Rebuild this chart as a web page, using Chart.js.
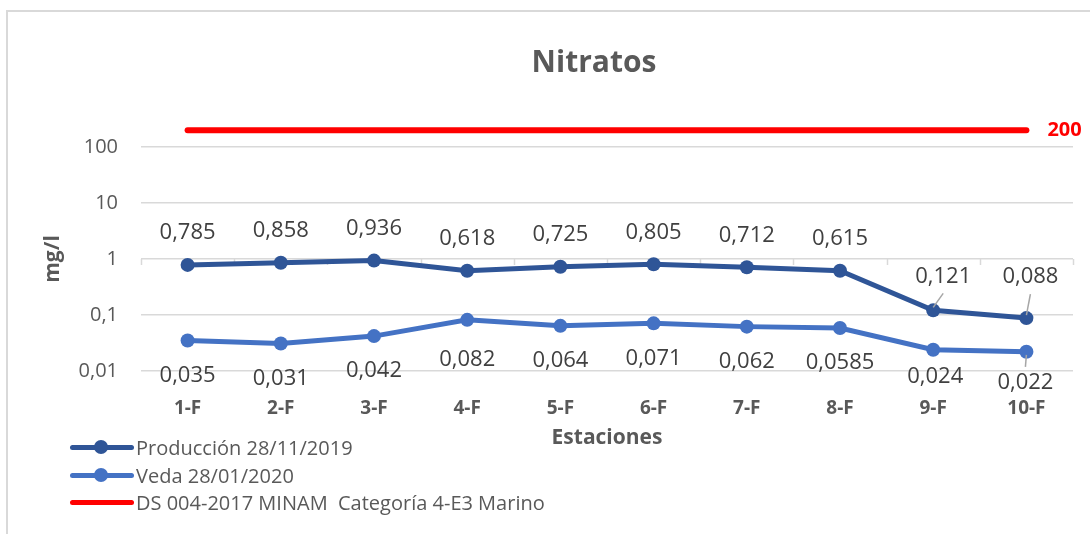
<!DOCTYPE html>
<html>
<head>
<meta charset="utf-8">
<script src="https://cdn.jsdelivr.net/npm/chart.js@4.4.1/dist/chart.umd.min.js"></script>
<style>
html, body { margin: 0; padding: 0; background: #fff; }
#wrap { position: relative; width: 1090px; height: 534px; overflow: hidden; }
#frame { position: absolute; left: 6px; top: 10px; width: 1200px; height: 700px; border: 2px solid #d9d9d9; box-sizing: border-box; }
#legend { position: absolute; left: 68px; top: 434px; font-family: 'Open Sans'; font-size: 20px; color: #595959; }
.row { height: 27.5px; line-height: 27.5px; white-space: nowrap; }
.sample { display: inline-block; position: relative; width: 66px; height: 27px; vertical-align: top; margin-right: 2px; }
.sample .ln { position: absolute; left: 2px; right: 0; top: 11px; height: 5px; border-radius: 3px; }
.sample .dot { position: absolute; left: 26px; top: 6px; width: 14px; height: 14px; border-radius: 50%; }
</style>
</head>
<body>
<div id="wrap">
  <div id="frame"></div>
  <canvas id="chart" width="1090" height="534"></canvas>
  <div id="legend"></div>
</div>
<script>
var estaciones = ['1-F', '2-F', '3-F', '4-F', '5-F', '6-F', '7-F', '8-F', '9-F', '10-F'];
var produccion = [0.785, 0.858, 0.936, 0.618, 0.725, 0.805, 0.712, 0.615, 0.121, 0.088];
var veda = [0.035, 0.031, 0.042, 0.082, 0.064, 0.071, 0.062, 0.0585, 0.024, 0.022];
var norma = [200, 200, 200, 200, 200, 200, 200, 200, 200, 200];
var yTicks = [0.01, 0.1, 1, 10, 100];

var FONT = "'Open Sans', sans-serif";
var GRAY = '#595959';

var fmt = function (v) {
    return String(v).replace('.', ',');
}

// label placement per dataset (offsets from the point, in px)
var labelCfg = [
    { dy: -32, special: { 8: { dx: 10, dy: -34, leader: true }, 9: { dx: 4, dy: -41, leader: true } } },
    { dy: 35, special: { 3: { dy: 40 }, 8: { dx: 2, dy: 27 }, 9: { dx: -1, dy: 31, leader: true } } }
];

var extras = {
    id: 'extras',
    beforeDatasetsDraw: function (chart) {
        var ctx = chart.ctx;
        var x = chart.scales.x, y = chart.scales.y;
        // small tick marks where the horizontal axis crosses (at 1)
        var y1 = y.getPixelForValue(1);
        var step = (x.right - x.left) / estaciones.length;
        ctx.save();
        ctx.strokeStyle = '#d9d9d9';
        ctx.lineWidth = 1.5;
        for (var i = 0; i <= estaciones.length; i++) {
            var px = Math.round(x.left + i * step) + 0.5;
            ctx.beginPath();
            ctx.moveTo(px, y1);
            ctx.lineTo(px, y1 + 6);
            ctx.stroke();
        }
        ctx.restore();
    },
    afterDatasetsDraw: function (chart) {
        var ctx = chart.ctx;
        ctx.save();
        ctx.textAlign = 'center';
        ctx.textBaseline = 'middle';
        ctx.font = '22px ' + FONT;
        for (var d = 0; d < 2; d++) {
            var meta = chart.getDatasetMeta(d);
            var vals = chart.data.datasets[d].data;
            var cfg = labelCfg[d];
            meta.data.forEach(function (pt, i) {
                var s = cfg.special[i] || {};
                var lx = pt.x + (s.dx || 0);
                var ly = pt.y + (s.dy !== undefined ? s.dy : cfg.dy);
                if (s.leader) {
                    ctx.strokeStyle = '#a6a6a6';
                    ctx.lineWidth = 1.5;
                    ctx.beginPath();
                    if (ly < pt.y) {
                        ctx.moveTo(lx, ly + 17);
                        ctx.lineTo(pt.x, pt.y - 3);
                    } else {
                        ctx.moveTo(pt.x, pt.y + 3);
                        ctx.lineTo(lx, ly - 16);
                    }
                    ctx.stroke();
                }
                ctx.fillStyle = '#404040';
                ctx.fillText(fmt(vals[i]), lx, ly);
            });
        }
        // value of the standard at the end of the red line
        var rm = chart.getDatasetMeta(2);
        var last = rm.data[rm.data.length - 1];
        ctx.fillStyle = '#ff0000';
        ctx.font = 'bold 20px ' + FONT;
        ctx.textAlign = 'left';
        ctx.fillText(String(norma[norma.length - 1]), last.x + 21, last.y);
        // title
        ctx.fillStyle = GRAY;
        ctx.font = 'bold 30px ' + FONT;
        ctx.textAlign = 'center';
        ctx.fillText('Nitratos', 594, 63);
        ctx.restore();
    }
};

var chart = new Chart(document.getElementById('chart'), {
    type: 'line',
    data: {
        labels: estaciones,
        datasets: [{
            label: 'Producción 28/11/2019',
            data: produccion,
            borderColor: '#2f5597',
            backgroundColor: '#2f5597',
            borderWidth: 5,
            pointRadius: 7,
            pointBackgroundColor: '#2f5597',
            pointBorderWidth: 0
        }, {
            label: 'Veda 28/01/2020',
            data: veda,
            borderColor: '#4472c4',
            backgroundColor: '#4472c4',
            borderWidth: 5,
            pointRadius: 7,
            pointBackgroundColor: '#4472c4',
            pointBorderWidth: 0
        }, {
            label: 'DS 004-2017 MINAM  Categoría 4-E3 Marino',
            data: norma,
            borderColor: '#ff0000',
            backgroundColor: '#ff0000',
            borderWidth: 6,
            borderCapStyle: 'round',
            pointRadius: 0,
            clip: false
        }]
    },
    options: {
        responsive: false,
        animation: false,
        layout: { padding: { top: 147, right: 17, left: 0, bottom: 0 } },
        plugins: {
            legend: { display: false },
            tooltip: { enabled: false }
        },
        scales: {
            x: {
                offset: true,
                grid: { display: false },
                border: { display: false },
                ticks: { color: GRAY, font: { family: FONT, size: 19, weight: 'bold' }, padding: 18, maxRotation: 0 },
                title: { display: true, text: 'Estaciones', color: GRAY, font: { family: FONT, size: 21, weight: 'bold' }, padding: { top: 0, bottom: 83 } },
                afterFit: function (s) { s.height = 163; }
            },
            y: {
                type: 'logarithmic',
                min: 0.01,
                max: 100,
                grid: { color: '#d9d9d9', lineWidth: 1.5, drawTicks: false },
                border: { display: false },
                afterBuildTicks: function (s) {
                    s.ticks = yTicks.map(function (v) { return { value: v }; });
                },
                ticks: {
                    autoSkip: false,
                    color: GRAY,
                    font: { family: FONT, size: 20 },
                    padding: 23,
                    callback: function (v) { return fmt(v); }
                },
                title: { display: true, text: 'mg/l', color: GRAY, font: { family: FONT, size: 21, weight: 'bold' }, padding: { top: 40, bottom: 0 } },
                afterFit: function (s) { s.width = 141; }
            }
        }
    },
    plugins: [extras]
});

// legend, stacked like the original
var legendBox = document.getElementById('legend');
chart.data.datasets.forEach(function (ds, i) {
    var row = document.createElement('div');
    row.className = 'row';
    var sample = '<span class="sample"><span class="ln" style="background:' + ds.borderColor + '"></span>' +
        (i < 2 ? '<span class="dot" style="background:' + ds.borderColor + '"></span>' : '') + '</span>';
    row.innerHTML = sample + '<span>' + ds.label.replace(/  /g, '&nbsp; ') + '</span>';
    legendBox.appendChild(row);
});
</script>
</body>
</html>
